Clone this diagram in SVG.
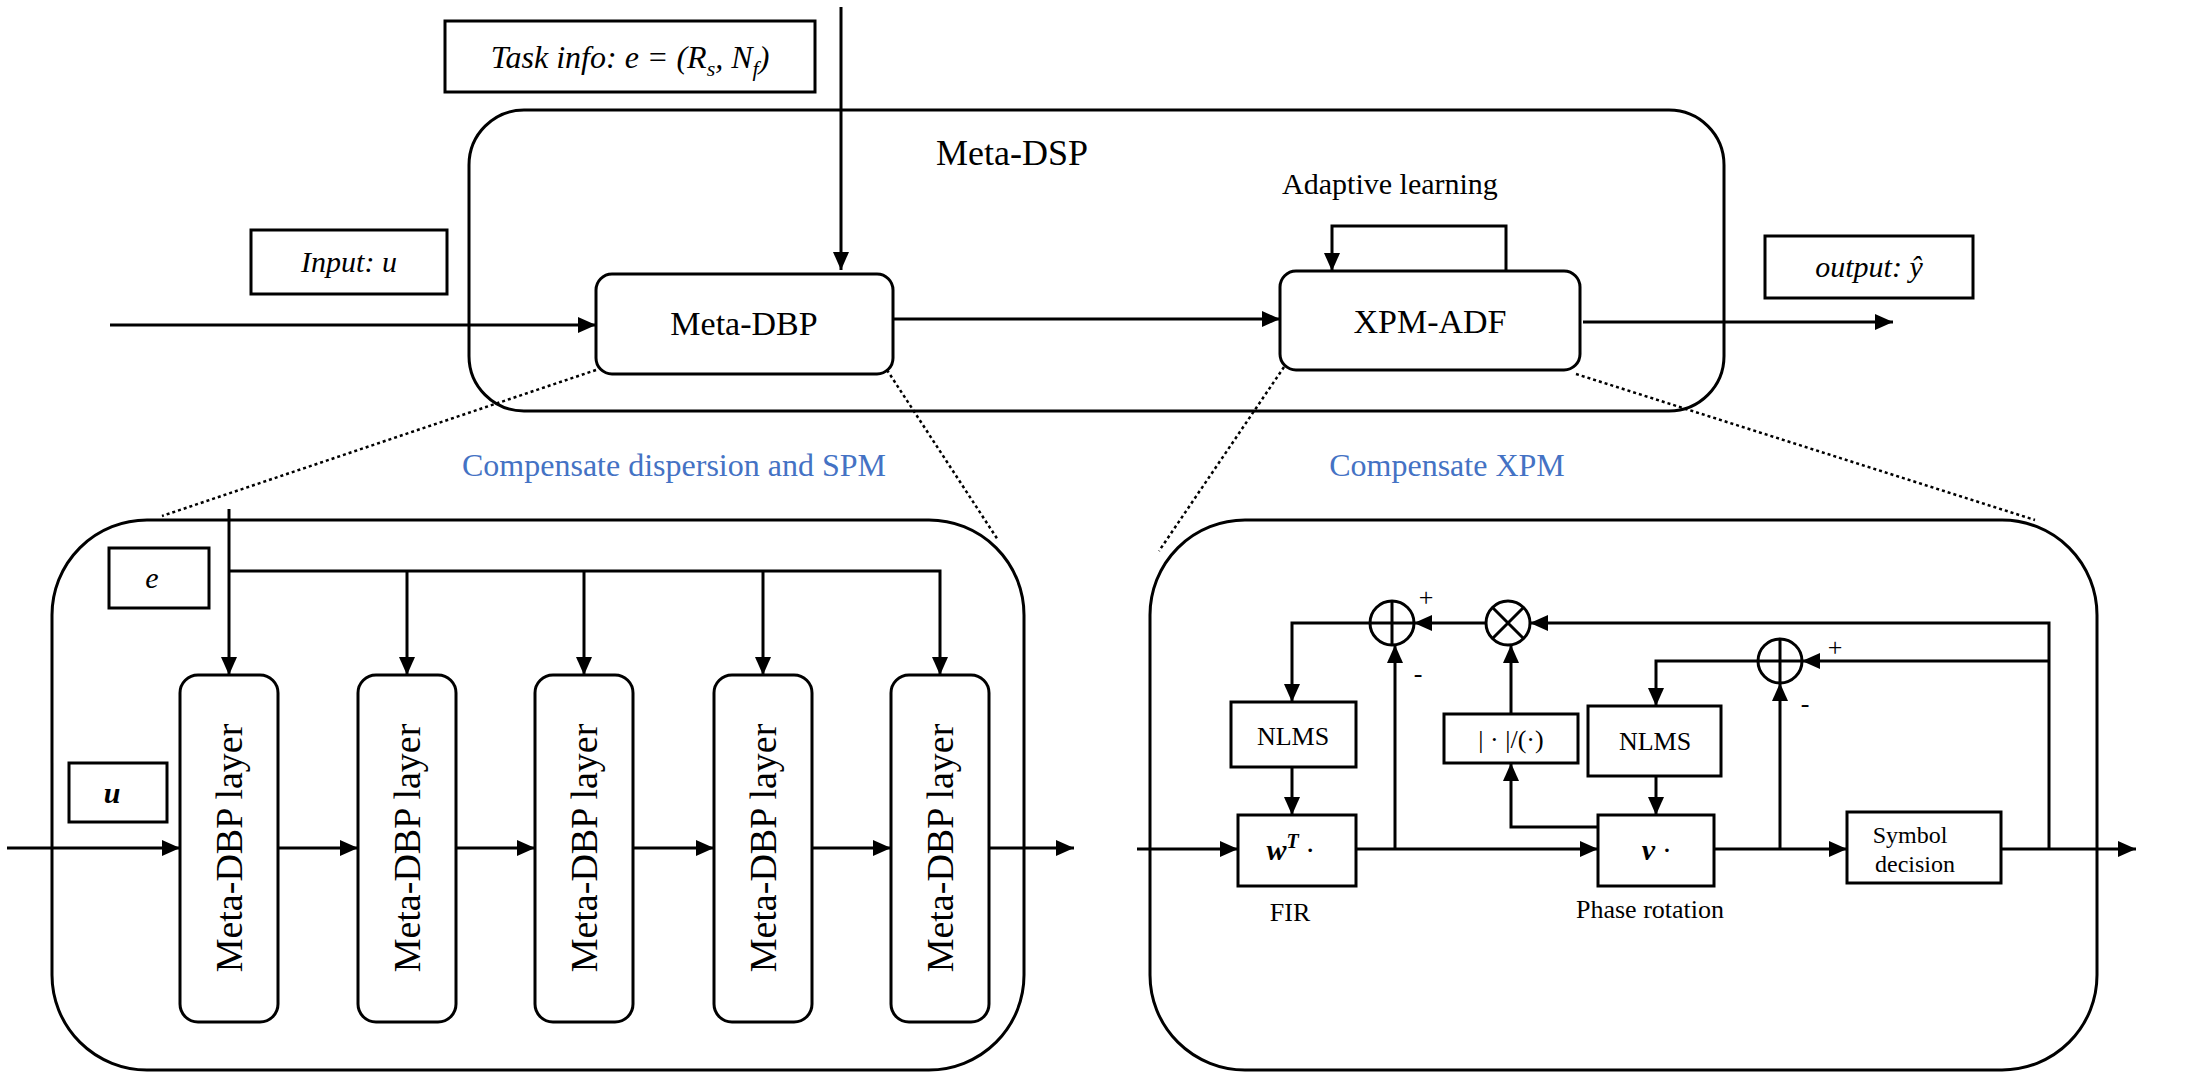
<svg xmlns="http://www.w3.org/2000/svg" width="2190" height="1086" viewBox="0 0 2190 1086">
<defs>
<marker id="ah" markerUnits="userSpaceOnUse" markerWidth="20" markerHeight="20" viewBox="0 0 20 20" refX="18" refY="10" orient="auto"><path d="M0,2 L18,10 L0,18 Z" fill="#000"/></marker>
</defs>
<style>
.b{fill:#fff;stroke:#000;stroke-width:3}
.c{fill:none;stroke:#000;stroke-width:3}
.w{fill:none;stroke:#000;stroke-width:3}
.d{fill:none;stroke:#000;stroke-width:2.5;stroke-dasharray:3 3}
.t{font-family:"Liberation Serif",serif;fill:#000;text-anchor:middle}
.i{font-style:italic}
.bl{fill:#4472C4}
</style>
<rect width="2190" height="1086" fill="#fff"/>
<g id="meta-dsp"><rect class="b" x="469" y="110" width="1255" height="301" rx="55"/><text class="t" x="1012" y="165" font-size="36">Meta-DSP</text></g>
<g id="left-panel"><rect class="b" x="52" y="520" width="972" height="550" rx="95"/></g>
<g id="right-panel"><rect class="b" x="1150" y="520" width="947" height="550" rx="95"/></g>
<g id="connectors">
<path class="w" d="M841,7 V270" marker-end="url(#ah)"/>
<path class="w" d="M110,325 H596" marker-end="url(#ah)"/>
<path class="w" d="M893,319 H1280" marker-end="url(#ah)"/>
<path class="w" d="M1583,322 H1893" marker-end="url(#ah)"/>
<path class="c" d="M1506,271 V226 H1332 V271" marker-end="url(#ah)"/>
<path class="d" d="M596,370 L162,516"/>
<path class="d" d="M887,370 L998,540"/>
<path class="d" d="M1284,367 L1159,551"/>
<path class="d" d="M1576,374 L2035,520"/>
<path class="c" d="M229,509 V675" marker-end="url(#ah)"/>
<path class="c" d="M229,571 H940 V675" marker-end="url(#ah)"/>
<path class="c" d="M407,571 V675" marker-end="url(#ah)"/>
<path class="c" d="M584,571 V675" marker-end="url(#ah)"/>
<path class="c" d="M763,571 V675" marker-end="url(#ah)"/>
<path class="w" d="M7,848 H180" marker-end="url(#ah)"/>
<path class="w" d="M278,848 H358" marker-end="url(#ah)"/>
<path class="w" d="M456,848 H535" marker-end="url(#ah)"/>
<path class="w" d="M633,848 H714" marker-end="url(#ah)"/>
<path class="w" d="M812,848 H891" marker-end="url(#ah)"/>
<path class="w" d="M989,848 H1074" marker-end="url(#ah)"/>
<path class="w" d="M1137,849 H1238" marker-end="url(#ah)"/>
<path class="w" d="M1356,849 H1598" marker-end="url(#ah)"/>
<path class="w" d="M1714,849 H1847" marker-end="url(#ah)"/>
<path class="w" d="M2001,849 H2136" marker-end="url(#ah)"/>
<path class="c" d="M1292,767 V815" marker-end="url(#ah)"/>
<path class="c" d="M1395,849 V645" marker-end="url(#ah)"/>
<path class="c" d="M1370,623 H1292 V702" marker-end="url(#ah)"/>
<path class="c" d="M1486,623 H1414" marker-end="url(#ah)"/>
<path class="c" d="M2049,849 V623 H1530" marker-end="url(#ah)"/>
<path class="c" d="M1598,827 H1511 V763" marker-end="url(#ah)"/>
<path class="c" d="M1511,714 V645" marker-end="url(#ah)"/>
<path class="c" d="M2049,661 H1802" marker-end="url(#ah)"/>
<path class="c" d="M1758,661 H1656 V706" marker-end="url(#ah)"/>
<path class="c" d="M1780,849 V683" marker-end="url(#ah)"/>
<path class="c" d="M1656,776 V815" marker-end="url(#ah)"/>
</g>
<g id="task-info"><rect class="b" x="445" y="21" width="370" height="71"/><text class="t i" x="630" y="68" font-size="32">Task info: e = (R<tspan font-size="22" dy="8">s</tspan><tspan dy="-8">, N</tspan><tspan font-size="22" dy="8">f</tspan><tspan dy="-8">)</tspan></text></g>
<g id="input"><rect class="b" x="251" y="230" width="196" height="64"/><text class="t i" x="349" y="272" font-size="30">Input: u</text></g>
<g id="output"><rect class="b" x="1765" y="236" width="208" height="62"/><text class="t i" x="1869" y="277" font-size="30">output: ŷ</text></g>
<g id="meta-dbp"><rect class="b" x="596" y="274" width="297" height="100" rx="16"/><text class="t" x="744" y="335" font-size="34">Meta-DBP</text></g>
<g id="xpm-adf"><rect class="b" x="1280" y="271" width="300" height="99" rx="16"/><text class="t" x="1430" y="333" font-size="34">XPM-ADF</text></g>
<text class="t" x="1390" y="194" font-size="30">Adaptive learning</text>
<text class="t bl" x="674" y="476" font-size="32">Compensate dispersion and SPM</text>
<text class="t bl" x="1447" y="476" font-size="32">Compensate XPM</text>
<g id="e-box"><rect class="b" x="109" y="548" width="100" height="60"/><text class="t i" x="152" y="588" font-size="30">e</text></g>
<g id="u-box"><rect class="b" x="69" y="763" width="98" height="59"/><text class="t i" x="112" y="803" font-size="30" font-weight="bold">u</text></g>
<g id="layer1"><rect class="b" x="180" y="675" width="98" height="347" rx="18"/><text class="t" font-size="38" transform="translate(242,848) rotate(-90)">Meta-DBP layer</text></g>
<g id="layer2"><rect class="b" x="358" y="675" width="98" height="347" rx="18"/><text class="t" font-size="38" transform="translate(420,848) rotate(-90)">Meta-DBP layer</text></g>
<g id="layer3"><rect class="b" x="535" y="675" width="98" height="347" rx="18"/><text class="t" font-size="38" transform="translate(597,848) rotate(-90)">Meta-DBP layer</text></g>
<g id="layer4"><rect class="b" x="714" y="675" width="98" height="347" rx="18"/><text class="t" font-size="38" transform="translate(776,848) rotate(-90)">Meta-DBP layer</text></g>
<g id="layer5"><rect class="b" x="891" y="675" width="98" height="347" rx="18"/><text class="t" font-size="38" transform="translate(953,848) rotate(-90)">Meta-DBP layer</text></g>
<g id="nlms1"><rect class="b" x="1231" y="702" width="125" height="65"/><text class="t" x="1293" y="745" font-size="26">NLMS</text></g>
<g id="fir"><rect class="b" x="1238" y="815" width="118" height="71"/><text class="t i" x="1290" y="860" font-size="30" font-weight="bold">w<tspan font-size="20" dy="-12">T</tspan><tspan dy="12" font-weight="normal"> ·</tspan></text><text class="t" x="1290" y="921" font-size="26">FIR</text></g>
<g id="sum1"><circle class="b" cx="1392" cy="623" r="22"/><path class="c" d="M1370,623 H1414 M1392,601 V645"/><text class="t" x="1426" y="606" font-size="26">+</text><text class="t" x="1418" y="682" font-size="26">-</text></g>
<g id="mult"><circle class="b" cx="1508" cy="623" r="22"/><path class="c" d="M1492,607 L1524,639 M1524,607 L1492,639"/></g>
<g id="absdiv"><rect class="b" x="1444" y="714" width="134" height="49"/><text class="t" x="1511" y="748" font-size="26">| · |/(·)</text></g>
<g id="nlms2"><rect class="b" x="1588" y="706" width="133" height="70"/><text class="t" x="1655" y="750" font-size="26">NLMS</text></g>
<g id="phase"><rect class="b" x="1598" y="815" width="116" height="71"/><text class="t i" x="1656" y="860" font-size="30" font-weight="bold">v<tspan font-weight="normal"> ·</tspan></text><text class="t" x="1650" y="918" font-size="26">Phase rotation</text></g>
<g id="sum2"><circle class="b" cx="1780" cy="661" r="22"/><path class="c" d="M1758,661 H1802 M1780,639 V683"/><text class="t" x="1835" y="656" font-size="26">+</text><text class="t" x="1805" y="712" font-size="26">-</text></g>
<g id="symbol"><rect class="b" x="1847" y="812" width="154" height="71"/><text class="t" x="1910" y="843" font-size="24">Symbol</text><text class="t" x="1915" y="872" font-size="24">decision</text></g>
</svg>
